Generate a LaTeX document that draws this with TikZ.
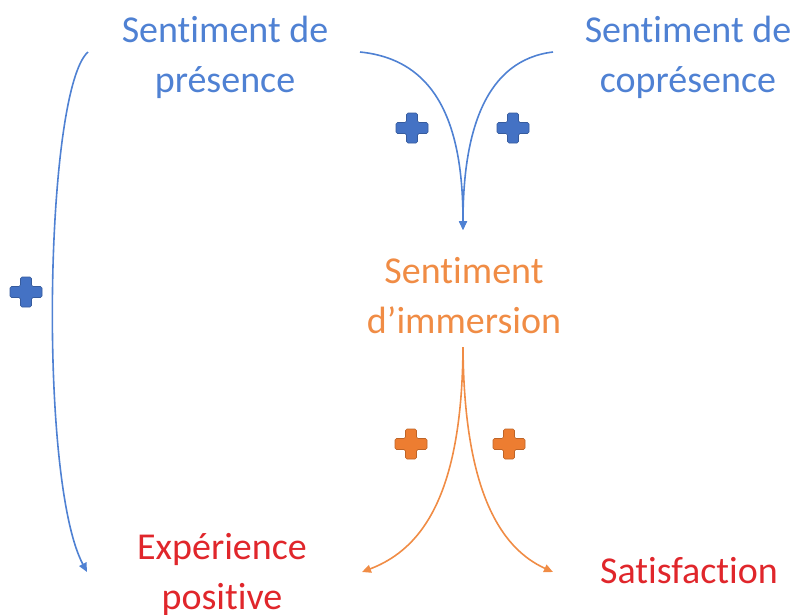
\documentclass[tikz,border=0pt]{standalone}
\usepackage{fontspec}
\setmainfont[Ligatures=NoCommon]{Carlito}
\usetikzlibrary{arrows.meta}

\definecolor{txtblue}{HTML}{4F81D3}
\definecolor{plusblue}{HTML}{4472C4}
\definecolor{txtorange}{HTML}{F08C45}
\definecolor{plusorange}{HTML}{ED7D31}
\definecolor{txtred}{HTML}{E0262B}

\tikzset{
  % multi-line labels are placed by the baseline of their last line
  label/.style={align=center, inner sep=0pt, anchor=base,
    font=\fontsize{38}{50}\selectfont},
  link/.style={line width=1.6pt, -{Triangle[length=9pt,width=8pt]}},
  plusmark/.pic={
    \fill[rounded corners=1.5pt, draw=#1!80!black, line width=0.6pt, fill=#1]
      (-16,-5.5) -- (-5.5,-5.5) -- (-5.5,-15) -- (5.5,-15) -- (5.5,-5.5)
      -- (16,-5.5) -- (16,5.5) -- (5.5,5.5) -- (5.5,15) -- (-5.5,15)
      -- (-5.5,5.5) -- (-16,5.5) -- cycle;
  }
}

\begin{document}
\begin{tikzpicture}[x=1pt,y=-1pt]
  \useasboundingbox (0,0) rectangle (798,614);

  % concepts
  \node[label, text=txtblue]   (pres)  at (225,92)  {Sentiment de\\présence};
  \node[label, text=txtblue]   (copr)  at (688,92)  {Sentiment de\\coprésence};
  \node[label, text=txtorange] (imm)   at (464,333) {Sentiment\\d’immersion};
  \node[label, text=txtred]    (exp)   at (222,609) {Expérience\\positive};
  \node[label, text=txtred]    (sat)   at (689,583) {Satisfaction};

  % connector end points
  \coordinate (presL) at (88,52);
  \coordinate (presR) at (360,52);
  \coordinate (coprL) at (553,52);
  \coordinate (immT)  at (463,230);
  \coordinate (immB)  at (463,347);
  \coordinate (expL)  at (87,572);
  \coordinate (expR)  at (362,572);
  \coordinate (satL)  at (553,572);

  % blue influences
  \draw[link, txtblue] (presL) .. controls (45,90) and (38,480) .. (expL);
  \draw[link, txtblue] (presR) .. controls (440,60) and (463,130) .. (immT);
  \draw[link, txtblue] (coprL) .. controls (486,60) and (463,130) .. (immT);

  % orange influences
  \draw[link, txtorange] (immB) .. controls (462,490) and (425,548) .. (expR);
  \draw[link, txtorange] (immB) .. controls (464,490) and (500,548) .. (satL);

  % signs
  \pic at (26,292)  {plusmark=plusblue};
  \pic at (412,128) {plusmark=plusblue};
  \pic at (513,128) {plusmark=plusblue};
  \pic at (411,444) {plusmark=plusorange};
  \pic at (509,444) {plusmark=plusorange};
\end{tikzpicture}
\end{document}
